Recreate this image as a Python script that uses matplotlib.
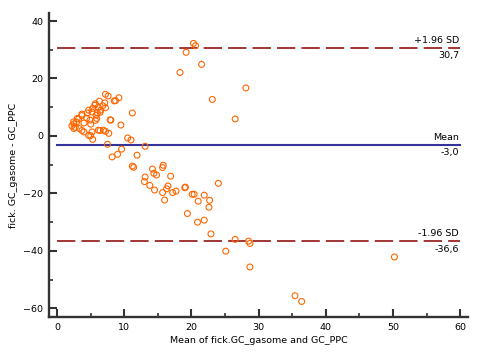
import matplotlib
matplotlib.use("Agg")
import matplotlib.pyplot as plt
from matplotlib.ticker import MultipleLocator

# Bland-Altman: mean of the two methods vs difference
mean_x = [7.2, 7.6, 9.2, 8.5, 6.3, 8.7, 7.1, 5.6, 5.7, 6.1, 7.2, 6.8, 5.3, 6.5, 4.7,
          5.2, 6.0, 4.5, 3.7, 6.4, 5.8, 3.7, 4.4, 5.9, 3.0, 3.2, 4.9, 5.7, 7.9, 8.0,
          2.45, 2.9, 2.5, 5.0, 4.0, 9.5, 2.2, 2.7, 2.5, 3.3, 3.7, 6.15, 6.9, 6.4, 4.0,
          5.2, 7.2, 7.7, 4.7, 5.0, 5.3, 11.2,
          7.5, 10.5, 11.0, 13.1, 9.6, 9.0, 8.2, 11.9, 11.2, 11.4, 14.2, 15.8, 15.7,
          14.8, 14.4, 13.1, 16.9, 13.0, 13.8, 14.5, 15.7, 16.0, 16.3, 16.5, 17.2,
          17.7, 19.0, 19.1, 20.1, 20.4, 21.9, 21.0, 22.7, 22.6, 24.0, 19.4, 20.9,
          21.9, 22.9, 26.5, 25.1, 28.5, 28.7, 28.7, 35.4, 36.4, 50.2,
          20.3, 20.6, 19.2, 21.5, 18.3, 28.1, 23.1, 26.5]
diff_y = [14.5, 13.9, 13.3, 12.2, 12.1, 12.3, 11.5, 10.7, 11.2, 10.0, 9.8, 10.5, 9.6, 9.0, 9.0,
          8.3, 8.0, 8.0, 7.6, 8.2, 7.2, 7.1, 6.2, 6.1, 6.1, 5.9, 5.5, 5.4, 5.6, 5.5,
          4.9, 4.8, 4.2, 4.1, 4.5, 3.8, 3.5, 3.0, 2.6, 2.6, 1.9, 2.0, 2.0, 1.9, 1.4,
          1.4, 1.6, 0.9, 0.2, 0.1, -1.2, 8.0,
          -2.9, -0.7, -1.4, -3.6, -4.6, -6.4, -7.3, -6.7, -10.5, -10.9, -11.5, -10.2, -11.0,
          -13.6, -13.0, -14.3, -14.0, -15.9, -17.2, -18.8, -19.7, -22.3, -18.4, -17.4, -19.7,
          -19.2, -18.0, -17.8, -20.3, -20.3, -20.6, -22.7, -22.4, -24.8, -16.5, -27.0, -30.0,
          -29.3, -34.1, -36.0, -40.1, -36.6, -37.4, -45.6, -55.6, -57.6, -42.1,
          32.2, 31.4, 29.1, 24.9, 22.1, 16.7, 12.7, 5.9]

mean_diff = -3.0
upper_loa = 30.7
lower_loa = -36.6
line_names = ["+1.96 SD", "Mean", "-1.96 SD"]
line_values = [upper_loa, mean_diff, lower_loa]
line_texts = ["30,7", "-3,0", "-36,6"]

fig = plt.figure(figsize=(4.93, 3.56), dpi=100)
ax = fig.add_axes([0.0994, 0.1096, 0.8506, 0.854])

ax.scatter(mean_x, diff_y, s=18, facecolors="none", edgecolors="#ff6600", linewidths=0.8, zorder=3)

for name, val, txt in zip(line_names, line_values, line_texts):
    if name == "Mean":
        ax.plot([0, 60], [val, val], color="#333399", lw=1.5, zorder=2)
    else:
        ax.plot([0, 60], [val, val], color="#880000", lw=1.1, dashes=(12, 4), zorder=2)
    ax.text(59.8, val + 1.0, name, ha="right", va="bottom", fontsize=6.8)
    ax.text(59.8, val - 1.2, txt, ha="right", va="top", fontsize=6.8)

ax.set_xlim(-1.2, 61.2)
ax.set_ylim(-63, 42.8)
ax.xaxis.set_major_locator(MultipleLocator(10))
ax.xaxis.set_minor_locator(MultipleLocator(5))
ax.yaxis.set_major_locator(MultipleLocator(20))
ax.yaxis.set_minor_locator(MultipleLocator(10))

for s in ["top", "right"]:
    ax.spines[s].set_visible(False)
for s in ["left", "bottom"]:
    ax.spines[s].set_linewidth(1.7)
    ax.spines[s].set_color("#333333")
ax.tick_params(which="major", direction="in", length=6, width=1.5, color="#333333",
               labelsize=6.8, pad=4)
ax.tick_params(which="minor", direction="in", length=3, width=1.2, color="#333333")

ax.set_xlabel("Mean of fick.GC_gasome and GC_PPC", fontsize=6.8, labelpad=3)
ax.set_ylabel("fick. GC_gasome - GC_PPC", fontsize=6.8, labelpad=4)

fig.savefig("out.png", dpi=100)
